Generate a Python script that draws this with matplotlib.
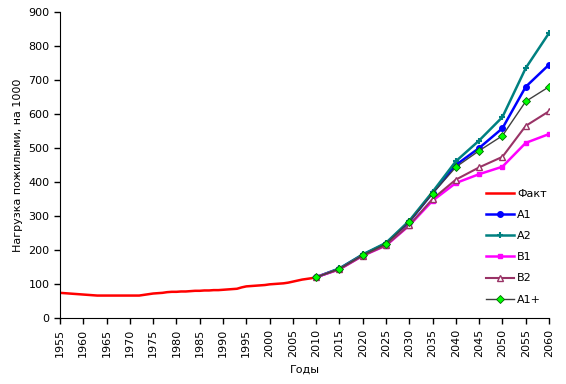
import matplotlib
matplotlib.use("Agg")
import matplotlib.pyplot as plt

fact_years = list(range(1955, 2011))
fact_vals = [74, 73, 72, 71, 70, 69, 68, 67, 66, 66,
             66, 66, 66, 66, 66, 66, 66, 66, 68, 70,
             72, 73, 74, 76, 77, 77, 78, 78, 79, 80,
             80, 81, 81, 82, 82, 83, 84, 85, 86, 90,
             93, 94, 95, 96, 97, 99, 100, 101, 102, 104,
             107, 110, 113, 115, 117, 120]

proj_years = [2010, 2015, 2020, 2025, 2030, 2035, 2040, 2045, 2050, 2055, 2060]
a1 = [120, 145, 186, 219, 283, 368, 450, 500, 558, 680, 745]
a2 = [120, 146, 187, 221, 286, 371, 461, 522, 591, 735, 838]
b1 = [120, 143, 183, 213, 272, 345, 397, 423, 445, 515, 541]
b2 = [120, 143, 183, 214, 273, 350, 407, 443, 474, 565, 608]
a1p = [120, 145, 185, 218, 283, 366, 444, 492, 536, 637, 680]

xticks = list(range(1955, 2061, 5))
yticks = list(range(0, 901, 100))

fig = plt.figure(figsize=(5.66, 3.84), dpi=100)
ax = fig.add_axes([60/566, 1-318/384, (549-60)/566, (318-12)/384])

ax.plot(fact_years, fact_vals, color="#ff0000", lw=1.8, label="Факт")
ax.plot(proj_years, a1, color="#0000ff", lw=1.8, marker="o", ms=4, label="A1")
ax.plot(proj_years, a2, color="#008080", lw=1.8, marker="+", ms=5, mew=1.5, label="A2")
ax.plot(proj_years, b1, color="#ff00ff", lw=1.8, marker="s", ms=3.5, label="B1")
ax.plot(proj_years, b2, color="#993366", lw=1.5, marker="^", ms=4, mfc="white", mec="#993366", label="B2")
ax.plot(proj_years, a1p, color="#404040", lw=1, marker="D", ms=4.5, mfc="#00ff00", mec="#006600", mew=0.6, label="A1+")

ax.set_xlim(1955, 2060)
ax.set_ylim(0, 900)
ax.set_xticks(xticks)
ax.set_xticklabels([str(x) for x in xticks], rotation=90, fontsize=8)
ax.set_yticks(yticks)
ax.set_yticklabels([str(y) for y in yticks], fontsize=8)
ax.tick_params(direction="out", length=4, width=1)
for s in ["top", "right"]:
    ax.spines[s].set_visible(False)
ax.set_xlabel("Годы", fontsize=8, labelpad=6)
ax.set_ylabel("Нагрузка пожилыми, на 1000", fontsize=8)

leg = fig.legend(loc="upper left", bbox_to_anchor=(486/566, 1-189/384), frameon=False,
                 fontsize=8, handlelength=2.5, labelspacing=1.0, handletextpad=0.3,
                 borderaxespad=0, borderpad=0)

fig.savefig("out.png", dpi=100)
